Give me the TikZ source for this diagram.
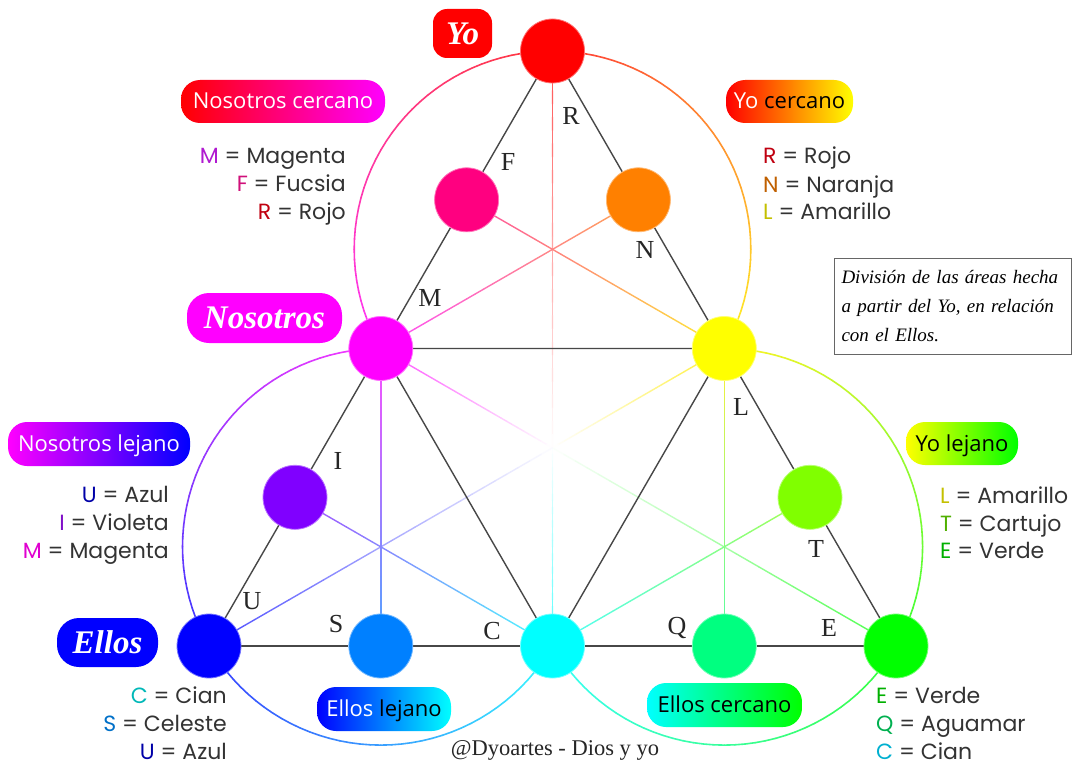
\documentclass[tikz,border=0pt]{standalone}
\usepackage{fontspec}
\setmainfont{Liberation Serif}
\newfontfamily\legendfont{Poppins}
\newfontfamily\pillfont{Open Sans}
\newfontfamily\brushfont{Liberation Serif}
\usetikzlibrary{calc}

% hues of the twelve-part wheel
\definecolor{cR}{HTML}{FF0000}
\definecolor{cF}{HTML}{FF0080}
\definecolor{cN}{HTML}{FF8000}
\definecolor{cM}{HTML}{FF00FF}
\definecolor{cY}{HTML}{FFFF00}
\definecolor{cI}{HTML}{8000FF}
\definecolor{cT}{HTML}{80FF00}
\definecolor{cU}{HTML}{0000FF}
\definecolor{cS}{HTML}{0080FF}
\definecolor{cC}{HTML}{00FFFF}
\definecolor{cQ}{HTML}{00FF80}
\definecolor{cE}{HTML}{00FF00}
% softer versions for the spokes
\colorlet{lR}{cR!70!white}
\colorlet{lF}{cF!70!white}
\colorlet{lN}{cN!70!white}
\colorlet{lM}{cM!70!white}
\colorlet{lY}{cY!85!orange!80!white}
\colorlet{lI}{cI!70!white}
\colorlet{lT}{cT!70!white}
\colorlet{lU}{cU!70!white}
\colorlet{lS}{cS!70!white}
\colorlet{lC}{cC!70!white}
\colorlet{lQ}{cQ!70!white}
\colorlet{lE}{cE!70!white}
% softer versions for the arcs
\colorlet{aR}{cR!78!white}
\colorlet{aM}{cM!78!white}
\colorlet{aY}{cY!90!orange!85!white}
\colorlet{aU}{cU!78!white}
\colorlet{aC}{cC!78!white}
\colorlet{aE}{cE!78!white}
\colorlet{ink}{black!72}
\colorlet{txt}{black!80}
% legend letter colours
\definecolor{kM}{HTML}{B01AD0}
\definecolor{kF}{HTML}{D0107A}
\definecolor{kR}{HTML}{C00010}
\definecolor{kN}{HTML}{C06000}
\definecolor{kL}{HTML}{C4C000}
\definecolor{kU}{HTML}{0000A8}
\definecolor{kI}{HTML}{8010C8}
\definecolor{kMM}{HTML}{E000D0}
\definecolor{kT}{HTML}{50B000}
\definecolor{kE}{HTML}{00B000}
\definecolor{kC}{HTML}{00B8B8}
\definecolor{kS}{HTML}{0070C8}
\definecolor{kQ}{HTML}{00B050}
\definecolor{kCC}{HTML}{00B0D0}

\pgfdeclarelayer{bg}
\pgfdeclarelayer{spokes}
\pgfsetlayers{bg,spokes,main}

% straight line from #1 to #2 shading from colour #3 to colour #4
\newcommand\gline[4]{%
  \foreach \k in {1,...,30}{%
    \pgfmathsetmacro\ta{(\k-1)/30}%
    \pgfmathsetmacro\tb{\k/30}%
    \pgfmathtruncatemacro\pc{100-100*(\k-0.5)/30}%
    \draw[hueline, color=#3!\pc!#4] ($(#1)!\ta!(#2)$) -- ($(#1)!\tb!(#2)$);
  }}
% arc of radius 198.3 round (#1,#2) from angle #3 to #4, colour #5 to #6
\newcommand\garc[6]{%
  \foreach \k in {1,...,40}{%
    \pgfmathsetmacro\aa{#3+(#4-#3)*(\k-1)/40}%
    \pgfmathsetmacro\ab{#3+(#4-#3)*\k/40}%
    \pgfmathtruncatemacro\pc{100-100*(\k-0.5)/40}%
    \draw[huearc, color=#5!\pc!#6]
      ({#1+198.3*cos(\aa)},{#2-198.3*sin(\aa)}) -- ({#1+198.3*cos(\ab)},{#2-198.3*sin(\ab)});
  }}

\tikzset{
  huedot/.style={circle, minimum size=64pt, inner sep=0pt, fill=#1, draw=#1!55!white, line width=0.8pt},
  hueline/.style={line width=1.4pt, line cap=round},
  huearc/.style={line width=1.6pt, line cap=round},
  edge/.style={draw=ink, line width=1.4pt},
  letter/.style={font=\fontsize{26}{26}\selectfont, text=black!85, inner sep=0pt},
  pill/.style={rounded corners=19pt, inner sep=0pt, text height=15.5pt, text depth=0.5pt,
    font=\pillfont\fontsize{22}{22}\selectfont},
  brush/.style={rounded corners=22pt, inner sep=0pt, text=white,
    font=\brushfont\bfseries\itshape\fontsize{33}{33}\selectfont},
  legend/.style={font=\legendfont\fontsize{22}{22}\selectfont, text=txt, inner sep=0pt},
}

\begin{document}
\begin{tikzpicture}[x=1pt, y=-1pt]
\begin{pgfonlayer}{bg}
  \fill[white] (0,0) rectangle (1073,765);
\end{pgfonlayer}
\useasboundingbox (0,0) rectangle (1073,765);

% the twelve hues
\node[huedot=cR] (Yo)  at (552.5,51) {};
\node[huedot=cF] (F)   at (466.6,199.8) {};
\node[huedot=cN] (N)   at (638.4,199.8) {};
\node[huedot=cM] (Nos) at (380.8,348.5) {};
\node[huedot=cY] (Yel) at (724.3,348.5) {};
\node[huedot=cI] (I)   at (295,497.3) {};
\node[huedot=cT] (T)   at (810,497.3) {};
\node[huedot=cU] (U)   at (209,646) {};
\node[huedot=cS] (S)   at (380.8,646) {};
\node[huedot=cC] (C)   at (552.5,646) {};
\node[huedot=cQ] (Q)   at (724.3,646) {};
\node[huedot=cE] (E)   at (896,646) {};
\coordinate (ctr) at (552.5,447.8);

\begin{pgfonlayer}{spokes}
  % outer arcs of the three circles
  \garc{552.5}{249.3}{210}{90}{aM}{aR}
  \garc{552.5}{249.3}{90}{-30}{aR}{aY}
  \garc{380.8}{546.8}{90}{210}{aM}{aU}
  \garc{380.8}{546.8}{210}{330}{aU}{aC}
  \garc{724.3}{546.8}{210}{330}{aC}{aE}
  \garc{724.3}{546.8}{330}{450}{aE}{aY}
  % spokes through the middle, fading to white
  \gline{Yo}{ctr}{lR}{white}
  \gline{ctr}{C}{white}{lC}
  \gline{Nos}{ctr}{lM}{white}
  \gline{ctr}{E}{white}{lE}
  \gline{Yel}{ctr}{lY}{white}
  \gline{ctr}{U}{white}{lU}
  % medians of the three small triangles
  \gline{Nos}{N}{lM}{lN}
  \gline{Yel}{F}{lY}{lF}
  \gline{Nos}{S}{lM}{lS}
  \gline{C}{I}{lC}{lI}
  \gline{Yel}{Q}{lY}{lQ}
  \gline{C}{T}{lC}{lT}
  % black triangles
  \draw[edge] (Yo) -- (F) -- (Nos) -- (I) -- (U);
  \draw[edge] (U) -- (S) -- (C) -- (Q) -- (E);
  \draw[edge] (E) -- (T) -- (Yel) -- (N) -- (Yo);
  \draw[edge] (Nos) -- (Yel) -- (C) -- (Nos);
\end{pgfonlayer}

% edge letters
\node[letter] (tR) at (571,116) {R};
\node[letter] (tF) at (508,162) {F};
\node[letter] (tN) at (645,250) {N};
\node[letter] (tM) at (430,298) {M};
\node[letter] (tL) at (741,407) {L};
\node[letter] (tI) at (338,461) {I};
\node[letter] (tT) at (816,549) {T};
\node[letter] (tU) at (252,601) {U};
\node[letter] (tS) at (336,624) {S};
\node[letter] (tC) at (492,631) {C};
\node[letter] (tQ) at (677,628) {Q};
\node[letter] (tE) at (829,628) {E};

% area tags
\node[brush, rounded corners=14pt, fill=cR, minimum width=59pt, minimum height=49pt] (pYo) at (462.5,33.5) {Yo};
\node[brush, fill=cM, minimum width=155pt, minimum height=50pt] (pNos) at (264.5,318) {Nosotros};
\node[brush, fill=cU, minimum width=101pt, minimum height=49pt] (pEl) at (107.5,642.5) {Ellos};
\node[pill, left color=cR, right color=cM, minimum width=204pt, minimum height=43pt, text=white] (pNC) at (283,101.5) {Nosotros cercano};
\node[pill, left color=cR, right color=cY, minimum width=127pt, minimum height=43pt] (pYC) at (789.5,101.5) {\textcolor{white}{Yo} cercano};
\node[pill, left color=cM, right color=cU, minimum width=182pt, minimum height=44pt, text=white] (pNL) at (99,444) {Nosotros lejano};
\node[pill, left color=cY, right color=cE, minimum width=112pt, minimum height=43pt] (pYL) at (962,443.5) {Yo lejano};
\node[pill, left color=cU, right color=cC, minimum width=134pt, minimum height=44pt] (pEL) at (384,709) {\textcolor{white}{Ellos} lejano};
\node[pill, left color=cC, right color=cE, minimum width=155pt, minimum height=44pt] (pEC) at (724.5,705) {Ellos cercano};

% legends
\node[legend, anchor=base east] (g1a) at (346,164) {\textcolor{kM}{M} = Magenta};
\node[legend, anchor=base east] (g1b) at (346,191.5) {\textcolor{kF}{F} = Fucsia};
\node[legend, anchor=base east] (g1c) at (346,219) {\textcolor{kR}{R} = Rojo};
\node[legend, anchor=base west] (g2a) at (763,164) {\textcolor{kR}{R} = Rojo};
\node[legend, anchor=base west] (g2b) at (763,192) {\textcolor{kN}{N} = Naranja};
\node[legend, anchor=base west] (g2c) at (763,219.5) {\textcolor{kL}{L} = Amarillo};
\node[legend, anchor=base east] (g3a) at (169,502) {\textcolor{kU}{U} = Azul};
\node[legend, anchor=base east] (g3b) at (169,530) {\textcolor{kI}{I} = Violeta};
\node[legend, anchor=base east] (g3c) at (169,558) {\textcolor{kMM}{M} = Magenta};
\node[legend, anchor=base west] (g4a) at (940,503) {\textcolor{kL}{L} = Amarillo};
\node[legend, anchor=base west] (g4b) at (940,531) {\textcolor{kT}{T} = Cartujo};
\node[legend, anchor=base west] (g4c) at (940,558) {\textcolor{kE}{E} = Verde};
\node[legend, anchor=base east] (g5a) at (227,703) {\textcolor{kC}{C} = Cian};
\node[legend, anchor=base east] (g5b) at (227,731) {\textcolor{kS}{S} = Celeste};
\node[legend, anchor=base east] (g5c) at (227,759) {\textcolor{kU}{U} = Azul};
\node[legend, anchor=base west] (g6a) at (876,703) {\textcolor{kE}{E} = Verde};
\node[legend, anchor=base west] (g6b) at (876,731) {\textcolor{kQ}{Q} = Aguamar};
\node[legend, anchor=base west] (g6c) at (876,759) {\textcolor{kCC}{C} = Cian};

% note box
\node[draw=black!60, line width=1pt, minimum width=237pt, minimum height=96pt,
      text width=222pt, align=left, inner sep=0pt,
      font=\itshape\fontsize{19}{29}\selectfont] (note) at (952.5,306)
  {División de las áreas hecha\\a partir del Yo, en relación\\con el Ellos.};

% signature
\node[font=\fontsize{22.5}{22.5}\selectfont, text=black!85] (sig) at (555,750) {@Dyoartes - Dios y yo};
\end{tikzpicture}
\end{document}
